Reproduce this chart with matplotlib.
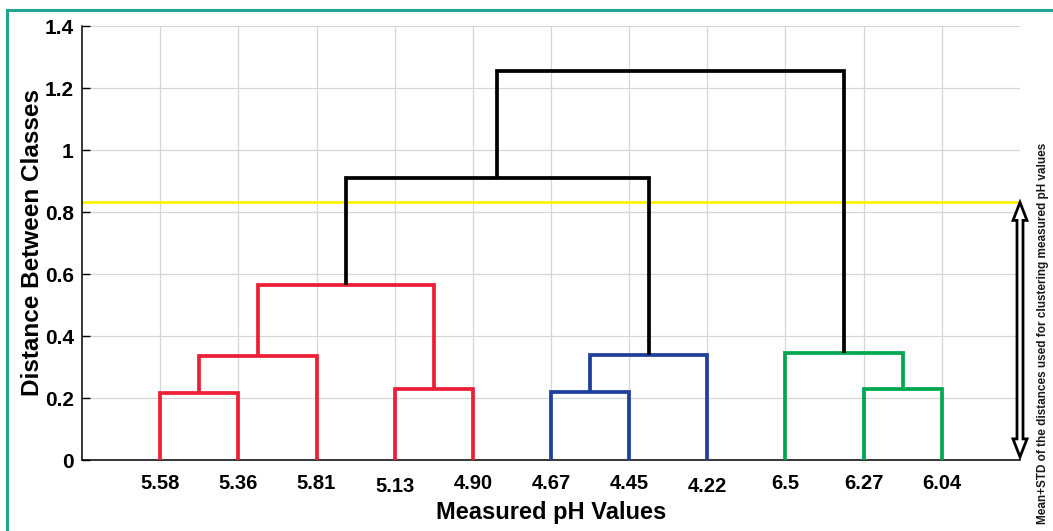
import numpy as np
import matplotlib
matplotlib.use("Agg")
import matplotlib.pyplot as plt
from matplotlib.patches import Polygon, Rectangle
import matplotlib.transforms as mtransforms

# leaves in dendrogram order
leaf_labels = ["5.58", "5.36", "5.81", "5.13", "4.90", "4.67",
               "4.45", "4.22", "6.5", "6.27", "6.04"]

# linkage (scipy style): ids >= 11 refer to earlier merges
link_left = [0, 5, 3, 9, 11, 12, 8, 15, 18, 19]
link_right = [1, 6, 4, 10, 2, 7, 14, 13, 16, 17]
link_height = [0.216, 0.218, 0.229, 0.229, 0.337, 0.339, 0.344, 0.566, 0.911, 1.254]
link_group = ["r", "b", "r", "g", "r", "b", "g", "r", "k", "k"]

cut_height = 0.831  # mean + std of the distances

colors = {"r": "#ee1f35", "b": "#1f3f9c", "g": "#00a650", "k": "black"}

plt.rcParams["font.family"] = ["Liberation Sans", "DejaVu Sans"]
plt.rcParams["font.weight"] = "bold"

fig = plt.figure(figsize=(10.53, 5.31), dpi=100)
ax = fig.add_axes([82 / 1053, 1 - 460 / 531, 938 / 1053, 434 / 531])

# ------------------------------------------------------------
# dendrogram
n = len(leaf_labels)
node_x = {i: i + 1.0 for i in range(n)}
node_y = {i: 0.0 for i in range(n)}
for k in range(len(link_height)):
    a, b, h = link_left[k], link_right[k], link_height[k]
    xa, xb = node_x[a], node_x[b]
    ax.plot([xa, xa, xb, xb], [node_y[a], h, h, node_y[b]],
            color=colors[link_group[k]], lw=2.7, zorder=3,
            solid_joinstyle="miter", solid_capstyle="butt")
    node_x[n + k] = (xa + xb) / 2
    node_y[n + k] = h

# threshold line
ax.plot([0, 12], [cut_height, cut_height], color="#fff200", lw=2.0, zorder=2)

# hollow double arrow from threshold down to 0
xc = 12.0
sw = 3.0 / 78.2     # half shaft width
hw = 7.0 / 78.2     # half head width
hl = 18 / 310.0     # head length
y0, y1 = 0.01, cut_height
arrow = Polygon([(xc, y1), (xc + hw, y1 - hl), (xc + sw, y1 - hl),
                 (xc + sw, y0 + hl), (xc + hw, y0 + hl), (xc, y0),
                 (xc - hw, y0 + hl), (xc - sw, y0 + hl), (xc - sw, y1 - hl),
                 (xc - hw, y1 - hl)],
                closed=True, facecolor="white", edgecolor="black", lw=2.0,
                clip_on=False, zorder=5, joinstyle="miter")
ax.add_patch(arrow)

# ------------------------------------------------------------
# axes styling
ax.set_xlim(0, 12)
ax.set_ylim(0, 1.4)
ax.set_xticks(range(1, n + 1))
ax.set_xticklabels(leaf_labels)
ax.set_yticks([0, 0.2, 0.4, 0.6, 0.8, 1, 1.2, 1.4])
ax.set_yticklabels(["0", "0.2", "0.4", "0.6", "0.8", "1", "1.2", "1.4"])
ax.grid(True, color="#d6d6d6", lw=0.9, zorder=0)
ax.set_axisbelow(True)
for s in ["top", "right"]:
    ax.spines[s].set_visible(False)
ax.spines["left"].set_linewidth(1.1)
ax.spines["bottom"].set_linewidth(1.1)
ax.tick_params(axis="y", direction="in", length=6, width=1, pad=6, labelsize=15)
ax.tick_params(axis="x", length=0, pad=10, labelsize=14.5)

# a couple of the leaf labels sit slightly lower in the original
for lab in ax.get_xticklabels():
    if lab.get_text() in ("5.13", "4.22"):
        lab.set_transform(lab.get_transform() +
                          mtransforms.ScaledTranslation(0, -3 / 100, fig.dpi_scale_trans))

ax.set_xlabel("Measured pH Values", fontsize=17, fontweight="bold")
ax.xaxis.set_label_coords(0.5, -0.12)
ax.xaxis.label.set_va("center")
ax.set_ylabel("Distance Between Classes", fontsize=17.5, fontweight="bold")
ax.yaxis.set_label_coords(-0.053, 0.5)
ax.yaxis.label.set_va("center")

fig.text(1043 / 1053, 1 - 333 / 531,
         "Mean+STD of the distances used for clustering measured pH values",
         rotation=90, ha="center", va="center", fontsize=8.5,
         fontweight="bold", color="#1a1a1a")

# teal frame
fig.patches.append(Rectangle((6.5 / 1053, -0.05), 1.1, 1 - 9.5 / 531 + 0.05,
                             transform=fig.transFigure, fill=False,
                             edgecolor="#1fa592", lw=2.2))

fig.savefig("out.png", dpi=100, facecolor="white")
